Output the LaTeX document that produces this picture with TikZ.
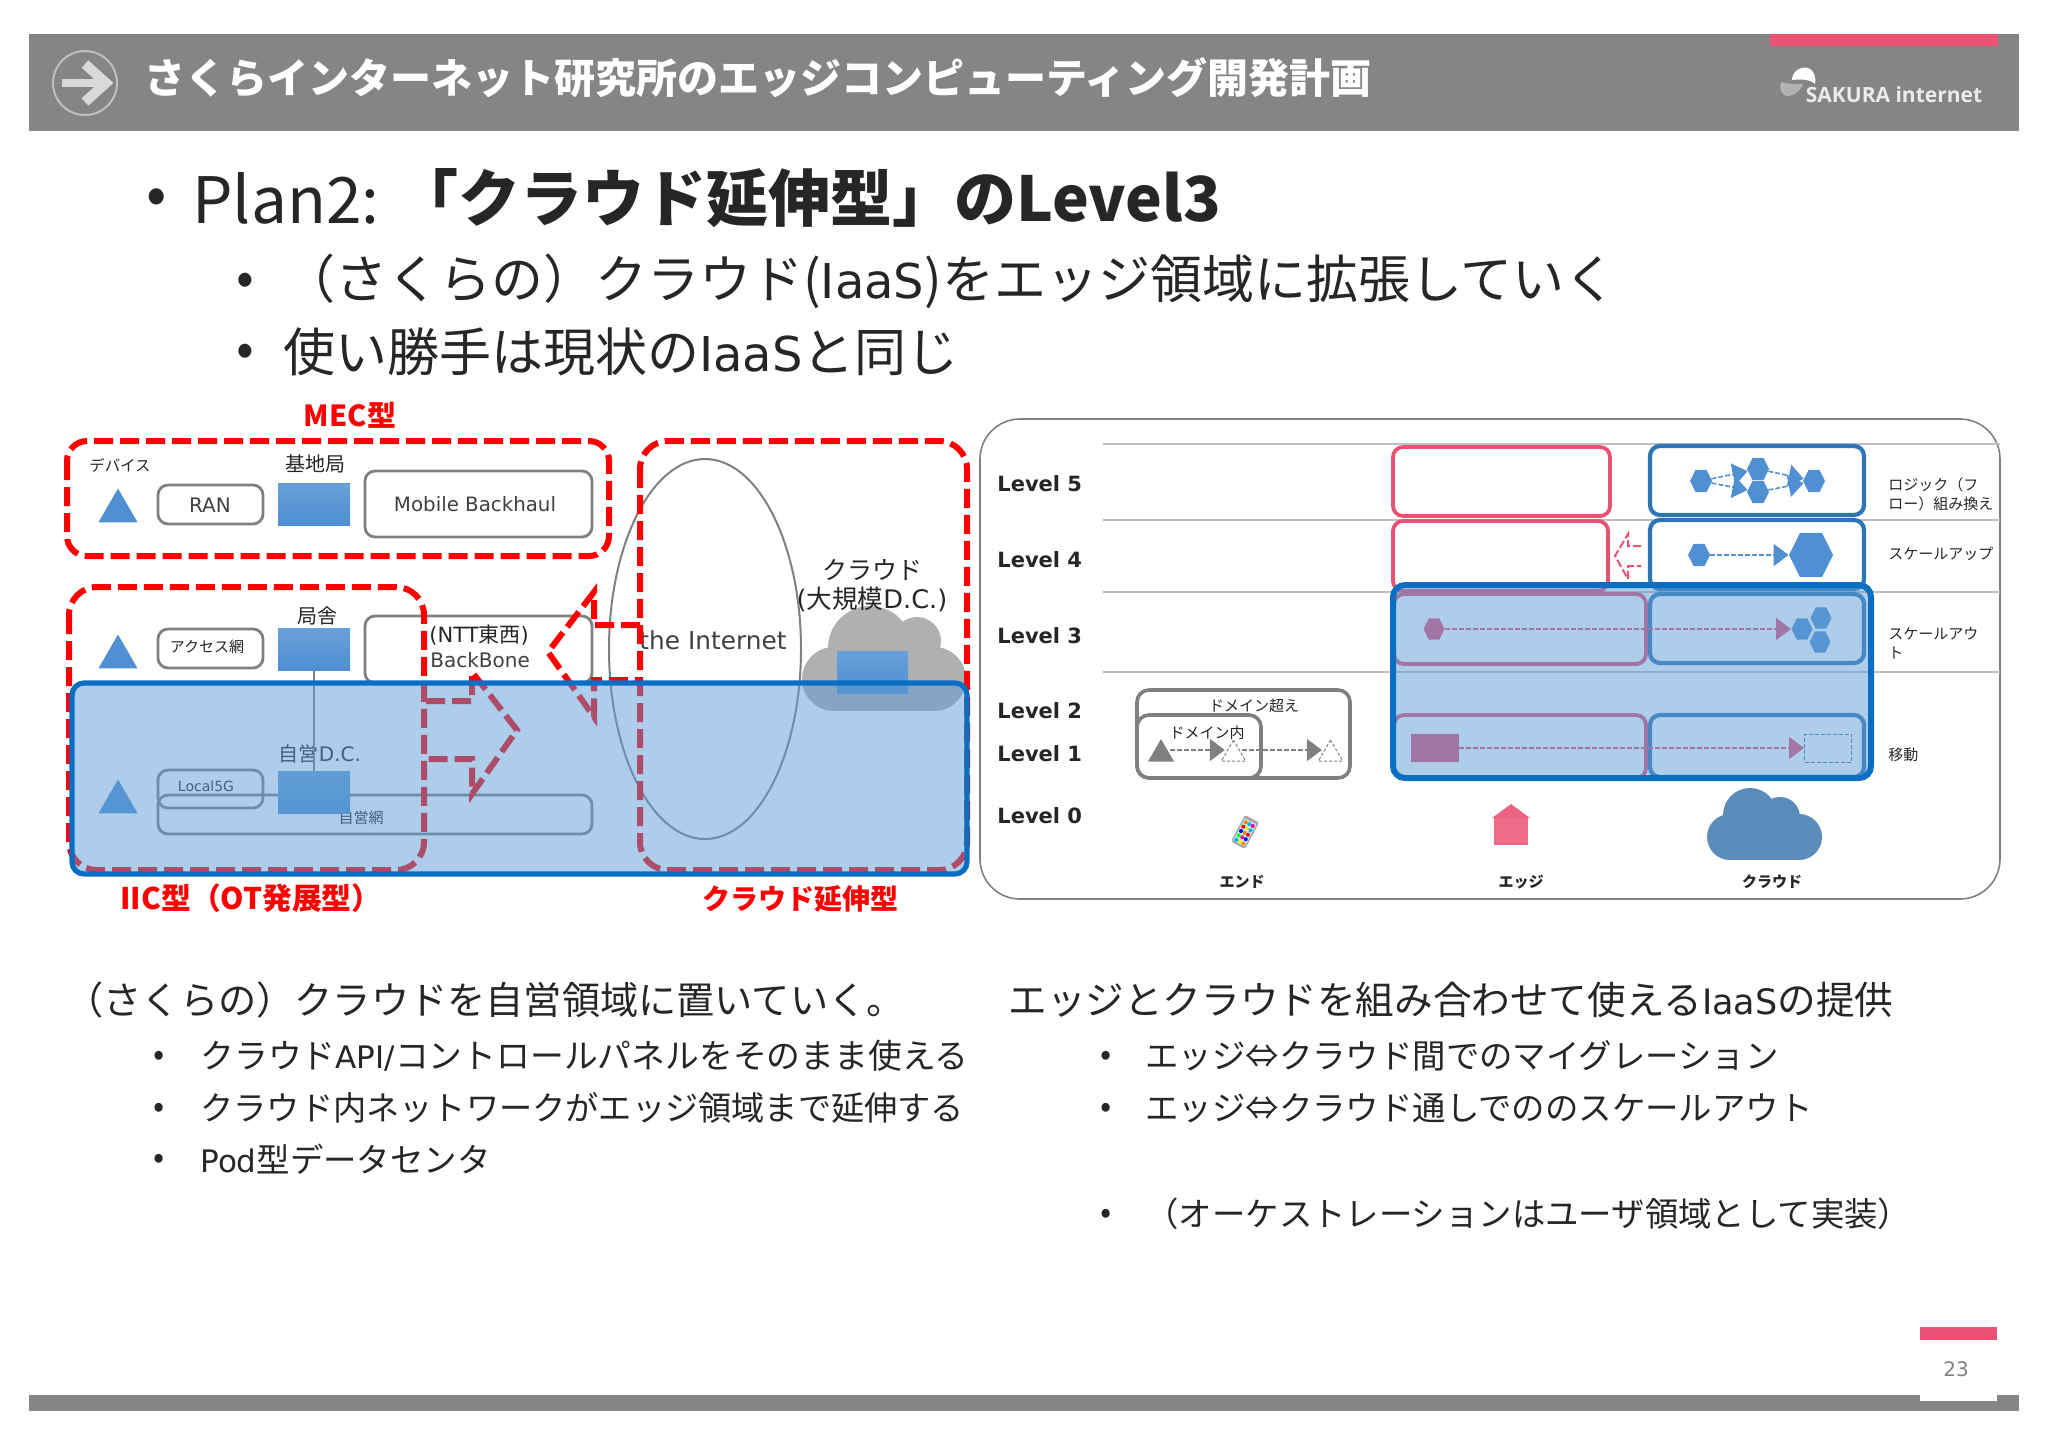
\documentclass[tikz,border=0pt]{standalone}
\usepackage{fontspec}
\setmainfont{Noto Sans CJK JP}
\newfontfamily\latinfont{DejaVu Sans}
\newfontfamily\logofont{Open Sans}
\usetikzlibrary{shapes.geometric,arrows.meta}
\definecolor{barGray}{HTML}{858585}
\definecolor{accentPink}{HTML}{EA5274}
\definecolor{inkDark}{HTML}{262626}
\definecolor{dashRed}{HTML}{FF0000}
\definecolor{overlayBlue}{HTML}{5B9BD5}
\definecolor{frameBlue}{HTML}{0A6FC2}
\definecolor{boxBlue}{HTML}{2E75B6}
\definecolor{shapeBlue}{HTML}{4F8FD2}
\definecolor{boxGray}{HTML}{808080}
\definecolor{cloudBlue}{HTML}{5B8CB9}
\tikzset{
  txt/.style={inner sep=0pt,text=inkDark,font=\fontsize{#1}{#1}\selectfont},
  redtxt/.style={inner sep=0pt,text=dashRed,font=\fontsize{#1}{#1}\selectfont\bfseries},
  region/.style={dashRed,line width=3pt,dash pattern=on 9.5pt off 3.5pt},
  graybox/.style={boxGray,line width=1.4pt,rounded corners=5pt},
  sq/.style={rectangle,inner sep=0pt,minimum width=36pt,minimum height=21pt,top color=shapeBlue!85!white,bottom color=shapeBlue},
  tri/.style={regular polygon,regular polygon sides=3,inner sep=0pt,minimum size=#1},
  hex/.style={regular polygon,regular polygon sides=6,inner sep=0pt,minimum size=#1,transform shape,yscale=1.16},
  overlay/.style={draw=frameBlue,fill=overlayBlue,fill opacity=.5,draw opacity=1,rounded corners=6pt},
  flow/.style={line width=.8pt,dash pattern=on 2.5pt off 1pt,-{Triangle[length=7.5pt,width=11pt]}},
  pinkbox/.style={accentPink,line width=1.9pt,rounded corners=5pt},
  bluebox/.style={boxBlue,line width=2.1pt,rounded corners=5pt},
  rule/.style={black!25,line width=1pt},
}
\begin{document}
\begin{tikzpicture}[x=.5pt,y=-.5pt]
\useasboundingbox (0,0) rectangle (2048,1447);
% header bar
\fill[barGray] (29,34) rectangle (2019,131);
\fill[accentPink] (1770,34) rectangle (1998,46);
\draw[black!25,line width=1pt] (85,83) circle[radius=32];
\draw[black!15,line width=4pt] (62,83) -- (104,83);
\draw[black!15,line width=5pt] (85,64) -- (106,83) -- (85,102);
\node[anchor=west,inner sep=0pt,text=white,font=\fontsize{20.5}{20.5}\selectfont\bfseries] (title) at (144,78) {さくらインターネット研究所のエッジコンピューティング開発計画};
\fill[white] (1792,80) .. controls (1792,70) and (1803,66) .. (1808,68) .. controls (1815,71) and (1816,78) .. (1815,84) .. controls (1810,79) and (1800,79) .. (1792,80) -- cycle;
\fill[black!30] (1781,82) .. controls (1788,84) and (1797,84) .. (1803,84) .. controls (1800,92) and (1792,97) .. (1786,96) .. controls (1781,94) and (1779,88) .. (1781,82) -- cycle;
\node[inner sep=0pt,text=black!8,font=\logofont\fontsize{10.5}{10.5}\selectfont\bfseries] (logo) at (1894,95) {SAKURA internet};
% main bullets
\node[txt=30] (b1) at (157,202) {•};
\node[txt=32,anchor=west] (plan) at (192,198) {Plan2:};
\node[txt=31,anchor=west,font=\fontsize{31}{31}\selectfont\bfseries] (planbold) at (396,198) {「クラウド延伸型」のLevel3};
\node[txt=26] (b2) at (245,284) {•};
\node[txt=26,anchor=west] (sub1) at (283,281) {（さくらの）クラウド({\latinfont\fontsize{24}{24}\selectfont IaaS})をエッジ領域に拡張していく};
\node[txt=26] (b3) at (245,355) {•};
\node[txt=26,anchor=west] (sub2) at (283,352) {使い勝手は現状の{\latinfont\fontsize{24}{24}\selectfont IaaS}と同じ};
% left panel
\begin{scope}[yshift=-.5pt]
\node[redtxt=14.5] (mec) at (350,414) {MEC型};
\node[txt=7.7] (dev) at (120,464) {デバイス};
\node[tri=22.5pt,fill=shapeBlue] (t1) at (118,510) {};
\draw[graybox] (158,484) rectangle (263,523);
\node[txt=10,text=black!75,font=\latinfont\fontsize{10}{10}\selectfont] (ran) at (210,504) {RAN};
\node[txt=10] (kichi) at (315,463) {基地局};
\node[sq] (s1) at (314,503) {};
\draw[graybox] (365,470) rectangle (592,536);
\node[txt=10,text=black!75,font=\latinfont\fontsize{9.9}{10}\selectfont] (mbh) at (475,503) {Mobile Backhaul};
\node[tri=22.5pt,fill=shapeBlue] (t2) at (118,656) {};
\draw[graybox] (158,628) rectangle (263,667);
\node[txt=7.5] (acc) at (207,646) {アクセス網};
\node[txt=10] (kyoku) at (317,615) {局舎};
\node[sq] (s2) at (314,648) {};
\draw[graybox] (365,615) rectangle (592,682);
\node[txt=10.5,anchor=west] (ntt) at (429,634) {{\latinfont (NTT}東西{\latinfont )}};
\node[txt=10,text=black!75,anchor=west,font=\latinfont\fontsize{10}{10}\selectfont] (bb) at (430,659) {BackBone};
\node[tri=22.5pt,fill=shapeBlue] (t3) at (118,801) {};
\draw[graybox] (158,769) rectangle (263,807);
\node[txt=7,font=\latinfont\fontsize{7}{7}\selectfont] (l5g) at (206,785) {Local5G};
\draw[graybox] (158,794) rectangle (592,833);
\node[txt=7.5] (jiei) at (361,817) {自営網};
\node[txt=10] (dc) at (320,753) {自営{\latinfont D.C.}};
\node[sq] (s3) at (314,791) {};
\draw[boxGray,line width=.7pt] (s2) -- (s3);
% cloud
\fill[black!31] (870,647) circle[radius=42];
\fill[black!31] (917,640) circle[radius=24];
\fill[black!31] (834,678) circle[radius=32];
\fill[black!31] (934,678) circle[radius=32];
\fill[black!31] (834,660) rectangle (934,710);
\node[sq,minimum width=35.5pt] (s4) at (872.5,671) {};
\node[txt=12.5] (cl1) at (872,569) {クラウド};
\node[txt=12.8] (cl2) at (872,598) {{\latinfont (}大規模{\latinfont D.C.)}};
\draw[boxGray,line width=1pt] (705,648) ellipse[x radius=96,y radius=190];
\node[txt=12.4,text=black!75,font=\latinfont\fontsize{12.4}{12.4}\selectfont] (inet) at (713,639) {the Internet};
% dashed regions
\draw[region,rounded corners=10pt] (67,440) rectangle (609,555);
\draw[region,rounded corners=14pt] (69,586) rectangle (424,869);
\draw[region,rounded corners=14pt] (640,440) rectangle (967,869);
\draw[region] (426,700) -- (472,700) -- (472,671) -- (517,729) -- (472,793) -- (472,758) -- (426,758);
\draw[region] (640,624) -- (594,624) -- (594,591) -- (548,651) -- (594,716) -- (594,679) -- (640,679);
% blue overlay left
\draw[overlay,line width=2.6pt] (72,682) rectangle (967,873);
\node[redtxt=14.9] (iic) at (251,897) {IIC型（OT発展型）};
\node[redtxt=14] (ext) at (800,898) {クラウド延伸型};
\end{scope}
% right panel
\begin{scope}[yshift=-1pt]
\draw[boxGray,line width=.8pt,rounded corners=20pt] (980,417) rectangle (2000,897);
\foreach \ruleY in {442,518,590,670}
  \draw[rule] (1103,\ruleY) -- (2000,\ruleY);
\node[txt=10.5,anchor=west,font=\latinfont\fontsize{10.5}{10.5}\selectfont\bfseries] (lv5) at (997,482) {Level 5};
\node[txt=10.5,anchor=west,font=\latinfont\fontsize{10.5}{10.5}\selectfont\bfseries] (lv4) at (997,558) {Level 4};
\node[txt=10.5,anchor=west,font=\latinfont\fontsize{10.5}{10.5}\selectfont\bfseries] (lv3) at (997,634) {Level 3};
\node[txt=10.5,anchor=west,font=\latinfont\fontsize{10.5}{10.5}\selectfont\bfseries] (lv2) at (997,709) {Level 2};
\node[txt=10.5,anchor=west,font=\latinfont\fontsize{10.5}{10.5}\selectfont\bfseries] (lv1) at (997,752) {Level 1};
\node[txt=10.5,anchor=west,font=\latinfont\fontsize{10.5}{10.5}\selectfont\bfseries] (lv0) at (997,814) {Level 0};
\draw[pinkbox] (1393,445) rectangle (1610,514);
\draw[pinkbox] (1393,519) rectangle (1608,589);
\draw[pinkbox] (1394,592) rectangle (1646,662);
\draw[pinkbox] (1394,713) rectangle (1646,776);
\draw[bluebox] (1650,444) rectangle (1864,513);
\draw[bluebox] (1650,518) rectangle (1864,587);
\draw[bluebox] (1650,592) rectangle (1864,661);
\draw[bluebox] (1650,713) rectangle (1864,775);
\draw[accentPink,line width=1pt,dash pattern=on 4pt off 1.5pt] (1641,544) -- (1628,544) -- (1628,532) -- (1615,554) -- (1628,577) -- (1628,564) -- (1641,564);
% level 5
\node[hex=11pt,fill=shapeBlue] (h5a) at (1701,479) {};
\node[hex=11pt,fill=shapeBlue] (h5b) at (1758,467) {};
\node[hex=11pt,fill=shapeBlue] (h5c) at (1758,490) {};
\node[hex=11pt,fill=shapeBlue] (h5d) at (1814,479) {};
\draw[flow,shapeBlue] (h5a) -- (h5b);
\draw[flow,shapeBlue] (h5a) -- (h5c);
\draw[flow,shapeBlue] (h5b) -- (h5d);
\draw[flow,shapeBlue] (h5c) -- (h5d);
% level 4
\node[hex=11pt,fill=shapeBlue] (h4a) at (1699,553) {};
\node[hex=22pt,fill=shapeBlue] (h4b) at (1811,553) {};
\draw[flow,shapeBlue] (h4a) -- (h4b);
% level 3
\node[hex=10.5pt,fill=accentPink] (h3a) at (1434,627) {};
\node[hex=10.5pt,fill=shapeBlue] (h3b) at (1802,627) {};
\node[hex=10.5pt,fill=shapeBlue] (h3c) at (1821,616) {};
\node[hex=10.5pt,fill=shapeBlue] (h3d) at (1820,640) {};
\draw[flow,accentPink] (h3a) -- (h3b);
% level 1
\node[rectangle,inner sep=0pt,minimum width=24pt,minimum height=14pt,fill=accentPink] (m1a) at (1435,746) {};
\node[rectangle,inner sep=0pt,minimum width=23.5pt,minimum height=14pt,draw=boxBlue,line width=.5pt,dash pattern=on 2pt off 1pt] (m1b) at (1828,746) {};
\draw[flow,accentPink] (m1a) -- (m1b);
\draw[overlay,line width=3pt] (1393,583) rectangle (1871,776);
% domains
\draw[boxGray,line width=1.8pt,rounded corners=6pt] (1137,688) rectangle (1350,776);
\draw[boxGray,line width=1.8pt,rounded corners=6pt] (1137,713) rectangle (1261,776);
\node[txt=7.5] (dom2) at (1254,704) {ドメイン超え};
\node[txt=7.5] (dom1) at (1207,731) {ドメイン内};
\node[tri=15pt,fill=boxGray] (gt1) at (1161,752) {};
\node[tri=14pt,draw=boxGray,line width=.5pt,dash pattern=on 1.5pt off 1pt] (gt2) at (1233.5,752) {};
\node[tri=14pt,draw=boxGray,line width=.5pt,dash pattern=on 1.5pt off 1pt] (gt3) at (1330.5,752) {};
\draw[flow,boxGray] ([yshift=2pt]gt1.east) -- ([yshift=2pt]gt2.west);
\draw[flow,boxGray] ([yshift=2pt]gt2.east) -- ([yshift=2pt]gt3.west);
% right labels
\node[txt=7.5,anchor=west] (r5a) at (1888,483) {ロジック（フ};
\node[txt=7.5,anchor=west] (r5b) at (1888,502) {ロー）組み換え};
\node[txt=7.5,anchor=west] (r4) at (1888,552) {スケールアップ};
\node[txt=7.5,anchor=west] (r3a) at (1888,632) {スケールアウ};
\node[txt=7.5,anchor=west] (r3b) at (1888,651) {ト};
\node[txt=7.5,anchor=west] (r1) at (1888,753) {移動};
% level 0 icons
\begin{scope}[shift={(1245,830)},rotate=-28]
\fill[black!35,rounded corners=1pt] (-8,-15) rectangle (8,15);
\fill[cyan!25] (-6.5,-12) rectangle (6.5,13);
\foreach \dotY/\colA/\colB/\colC in {-9/orange/cyan/magenta,-4/red/yellow/cyan,1/blue/orange/red,6/green/magenta/blue,11/cyan/yellow/orange} {
  \fill[\colA] (-4,\dotY) circle[radius=2];
  \fill[\colB] (0,\dotY) circle[radius=2];
  \fill[\colC] (4,\dotY) circle[radius=2];
}
\end{scope}
\fill[accentPink!90!white] (1511,802) -- (1530,816) -- (1492,816) -- cycle;
\fill[accentPink!85!white] (1494,816) rectangle (1528,843);
\fill[cloudBlue] (1750,813) circle[radius=27];
\fill[cloudBlue] (1780,815) circle[radius=20];
\fill[cloudBlue] (1730,835) circle[radius=23];
\fill[cloudBlue] (1799,835) circle[radius=23];
\fill[cloudBlue] (1730,815) rectangle (1799,858);
\node[txt=7.5,font=\fontsize{7.5}{7.5}\selectfont\bfseries] (end) at (1242,880) {エンド};
\node[txt=7.5,font=\fontsize{7.5}{7.5}\selectfont\bfseries] (edge) at (1521,880) {エッジ};
\node[txt=7.5,font=\fontsize{7.5}{7.5}\selectfont\bfseries] (cloud) at (1772,880) {クラウド};
\end{scope}
% lower text, left column
\node[txt=19.1,anchor=west] (lefthead) at (65,1000) {（さくらの）クラウドを自営領域に置いていく。};
\node[txt=16.5] (lb1) at (159,1058) {•};
\node[txt=16.9,anchor=west] (la1) at (200,1056) {クラウド{\latinfont\fontsize{15.5}{15.5}\selectfont API/}コントロールパネルをそのまま使える};
\node[txt=16.5] (lb2) at (159,1110) {•};
\node[txt=16.6,anchor=west] (la2) at (200,1108) {クラウド内ネットワークがエッジ領域まで延伸する};
\node[txt=16.5] (lb3) at (159,1161) {•};
\node[txt=16.7,anchor=west] (la3) at (200,1159) {{\latinfont\fontsize{15.5}{15.5}\selectfont Pod}型データセンタ};
% lower text, right column
\node[txt=19.3,anchor=west] (righthead) at (1008,1000) {エッジとクラウドを組み合わせて使える{\latinfont\fontsize{17.5}{17.5}\selectfont IaaS}の提供};
\node[txt=16.5] (rb1) at (1106,1058) {•};
\node[txt=16.7,anchor=west] (ra1) at (1145,1056) {エッジ⇔クラウド間でのマイグレーション};
\node[txt=16.5] (rb2) at (1106,1110) {•};
\node[txt=16.7,anchor=west] (ra2) at (1145,1108) {エッジ⇔クラウド通しでののスケールアウト};
\node[txt=16.5] (rb3) at (1106,1216) {•};
\node[txt=16.7,anchor=west] (ra3) at (1145,1214) {（オーケストレーションはユーザ領域として実装）};
% footer
\fill[accentPink] (1920,1327) rectangle (1997,1340);
\fill[barGray] (29,1395) rectangle (2019,1411);
\fill[white] (1920,1390) rectangle (1997,1401);
\node[txt=10,text=black!50,font=\latinfont\fontsize{10}{10}\selectfont] (page) at (1956,1369) {23};
\end{tikzpicture}
\end{document}
